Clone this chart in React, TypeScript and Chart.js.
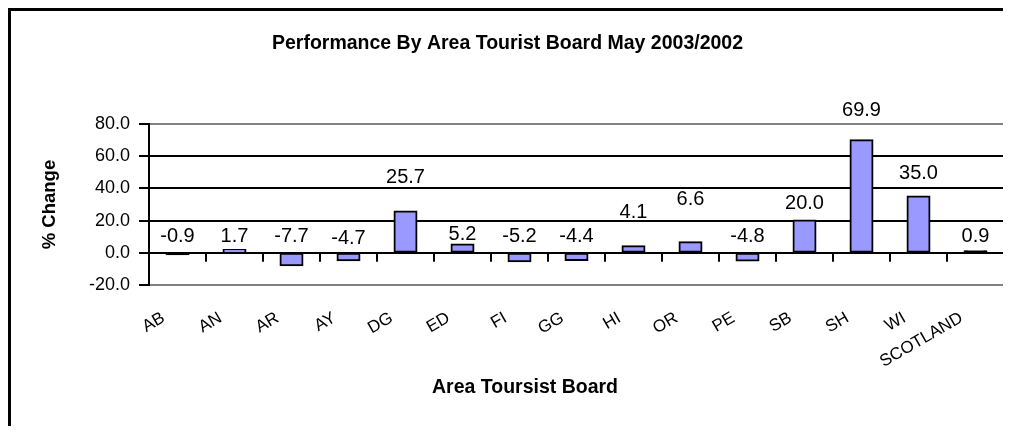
import React, { useEffect, useRef } from "react";
import { Chart, registerables } from "chart.js";

Chart.register(...registerables);

const categories = ["AB", "AN", "AR", "AY", "DG", "ED", "FI", "GG", "HI", "OR", "PE", "SB", "SH", "WI", "SCOTLAND"];
const changes = [-0.9, 1.7, -7.7, -4.7, 25.7, 5.2, -5.2, -4.4, 4.1, 6.6, -4.8, 20.0, 69.9, 35.0, 0.9];
// height (in % change units) at which each data label sits, as placed in the original
const labelHeights = [10.1, 10.1, 10.1, 9.1, 47.0, 11.2, 10.1, 10.1, 25.3, 33.1, 10.1, 30.6, 88.4, 49.2, 10.1];
const yMin = -20;
const yMax = 80;
const yStep = 20;

const chartTitle = "Performance By Area Tourist Board May 2003/2002";
const yTitle = "% Change";
const xTitle = "Area Toursist Board";

const FONT = "'Liberation Sans', Arial, sans-serif";
const BAR_FILL = "#9999FF";
const BAR_EDGE = "#000000";

const framePlugin = {
  id: "excelFrame",
  beforeDatasetsDraw(chart: any) {
    const { ctx, chartArea } = chart;
    const x = chart.scales.x;
    const y = chart.scales.y;
    ctx.save();
    // right border of the plot area
    ctx.strokeStyle = "#808080";
    ctx.lineWidth = 2;
    ctx.beginPath();
    ctx.moveTo(chartArea.right, chartArea.top - 1);
    ctx.lineTo(chartArea.right, chartArea.bottom + 1);
    ctx.stroke();
    // category tick marks on the zero line
    const zeroY = y.getPixelForValue(0);
    const n = categories.length;
    ctx.strokeStyle = "#000";
    ctx.lineWidth = 2;
    ctx.beginPath();
    for (let i = 1; i <= n; i++) {
      const px = x.left + (i * (x.right - x.left)) / n;
      ctx.moveTo(px, zeroY);
      ctx.lineTo(px, zeroY + 9);
    }
    ctx.stroke();
    ctx.restore();
  },
  afterDatasetsDraw(chart: any) {
    const { ctx } = chart;
    const y = chart.scales.y;
    const meta = chart.getDatasetMeta(0);
    ctx.save();
    ctx.fillStyle = "#000";
    ctx.font = `20px ${FONT}`;
    ctx.textAlign = "center";
    ctx.textBaseline = "middle";
    meta.data.forEach((bar: any, i: number) => {
      ctx.fillText(changes[i].toFixed(1), bar.x, y.getPixelForValue(labelHeights[i]));
    });
    ctx.restore();
  },
  afterDraw(chart: any) {
    const { ctx } = chart;
    ctx.save();
    ctx.fillStyle = "#000";
    ctx.font = `bold 19.5px ${FONT}`;
    ctx.textAlign = "center";
    ctx.textBaseline = "middle";
    ctx.fillText(xTitle, chart.width / 2 + 14, chart.height - 38);
    ctx.restore();
  },
};

export default function App() {
  const canvasRef = useRef<HTMLCanvasElement | null>(null);

  useEffect(() => {
    document.documentElement.style.overflow = "hidden";
    const canvas = canvasRef.current;
    if (!canvas) return;
    const chart = new Chart(canvas, {
      type: "bar",
      data: {
        labels: categories,
        datasets: [
          {
            data: changes,
            // a bar thinner than its outline shows only the outline colour
            backgroundColor: (c: any) => {
              const s = c.chart.scales.y;
              if (!s || c.raw === undefined) return BAR_FILL;
              const h = Math.abs(s.getPixelForValue(c.raw) - s.getPixelForValue(0));
              return h < 2 ? BAR_EDGE : BAR_FILL;
            },
            borderColor: BAR_EDGE,
            borderWidth: 2,
            borderSkipped: false,
            inflateAmount: 1,
            categoryPercentage: 0.386,
            barPercentage: 1,
          },
        ],
      },
      options: {
        responsive: false,
        animation: false,
        layout: { padding: { left: 0, right: 7, top: 0, bottom: 0 } },
        plugins: {
          legend: { display: false },
          tooltip: { enabled: false },
          title: {
            display: true,
            text: chartTitle,
            color: "#000",
            font: { family: FONT, size: 19.5, weight: "bold" },
            padding: { top: 21, bottom: 68.6 },
          },
        },
        scales: {
          x: {
            grid: { display: false, drawTicks: false },
            border: { display: false },
            ticks: {
              color: "#000",
              font: { family: FONT, size: 17 },
              maxRotation: 30,
              minRotation: 30,
              autoSkip: false,
              padding: 23,
              labelOffset: -14,
            },
            afterFit: (scale: any) => {
              scale.height = 141;
            },
          },
          y: {
            min: yMin,
            max: yMax,
            ticks: {
              stepSize: yStep,
              color: "#000",
              font: { family: FONT, size: 18 },
              padding: 9,
              callback: (v: any) => Number(v).toFixed(1),
            },
            grid: {
              color: (c: any) => (c.tick && (c.tick.value === yMax || c.tick.value === yMin) ? "#808080" : "#000"),
              lineWidth: 2,
              tickLength: 10,
              tickColor: "#000",
              drawTicks: true,
            },
            border: { display: true, color: "#000", width: 2 },
            title: {
              display: true,
              text: yTitle,
              color: "#000",
              font: { family: FONT, size: 18.5, weight: "bold" },
              padding: { top: 28, bottom: 0 },
            },
            afterFit: (scale: any) => {
              scale.width = 138;
            },
          },
        },
      },
      plugins: [framePlugin],
    });
    return () => chart.destroy();
  }, []);

  return (
    <div
      style={{
        width: 1003,
        height: 418,
        boxSizing: "border-box",
        borderTop: "3px solid #000",
        borderLeft: "3px solid #000",
        background: "#fff",
      }}
    >
      <canvas ref={canvasRef} width={1000} height={415} style={{ display: "block" }} />
    </div>
  );
}
